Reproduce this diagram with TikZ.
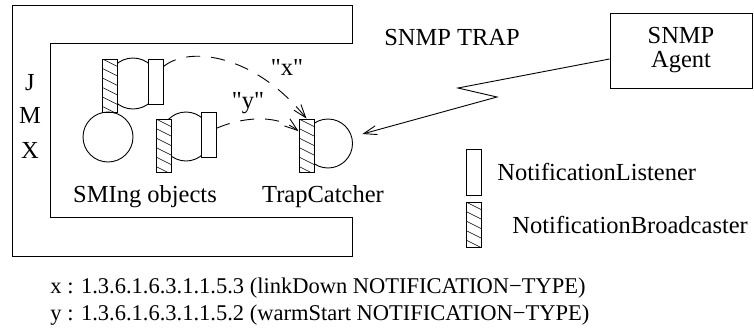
\documentclass[tikz,border=0pt]{standalone}
\usepackage{fontspec}
\setmainfont{Liberation Serif}[Ligatures=TeXOff]
\usetikzlibrary{arrows.meta}
\begin{document}
\begin{tikzpicture}[x=1pt,y=-1pt,line width=0.9pt,
  lbl/.style={font=\fontsize{24.5}{28}\selectfont,inner sep=0pt,anchor=base},
  lblw/.style={font=\fontsize{24.5}{28}\selectfont,inner sep=0pt,anchor=base west},
  small/.style={font=\fontsize{22.5}{26}\selectfont,inner sep=0pt,anchor=base west},
  obj/.style={draw,circle,inner sep=0pt,minimum size=#1},
  listener/.style={draw,fill=white,inner sep=0pt,minimum width=15pt},
  hatchbox/.style={draw,fill=white,inner sep=0pt,minimum width=15pt,
    path picture={\foreach \k in {-1,...,7}{
      \draw[line width=0.6pt] ([yshift=\k*(-9.5pt)]path picture bounding box.north west) -- ++(24pt,-12pt);}}},
  tip/.style={-{Straight Barb[length=13pt,width=9pt]}},
  dasharrow/.style={tip,dash pattern=on 14pt off 11pt}
]
\useasboundingbox (0,0) rectangle (754,335);

% JMX frame
\draw (12,5) -- (352,5) -- (352,43) -- (50,43) -- (50,217) -- (352,217) -- (352,256) -- (12,256) -- cycle;
\node[lbl] (j) at (30,90) {J};
\node[lbl] (m) at (30,123) {M};
\node[lbl] (xx) at (30,158) {X};

% object 1
\node[obj=51pt] (o1c) at (133,83.5) {};
\node[hatchbox,minimum height=53pt] (o1b) at (110,85.5) {};
\node[listener,minimum height=45pt] (o1l) at (155.5,81.5) {};

% object 2
\node[obj=49pt] (o2c) at (186,136.5) {};
\node[hatchbox,minimum height=53pt] (o2b) at (163.5,145.5) {};
\node[listener,minimum height=45pt] (o2l) at (208.5,134.5) {};

% plain object
\node[obj=50pt] (o3) at (108,137) {};

% TrapCatcher
\node[obj=49pt] (tcc) at (328,143.5) {};
\node[hatchbox,minimum height=53pt] (tcb) at (306.5,145.5) {};

\node[lbl] (smi) at (145,202) {SMIng objects};
\node[lbl] (tcl) at (323,202) {TrapCatcher};

% notifications
\draw[dasharrow] (o1l.62) .. controls (190,45) and (255,55) .. (tcb.north);
\draw[dasharrow] (o2l.38) .. controls (240,118) and (275,113) .. (tcb.119);
\node[lbl] (qx) at (287,75) {"x"};
\node[lbl] (qy) at (248,108) {"y"};

% SNMP
\node[lbl] (trap) at (452,45) {SNMP TRAP};
\node[draw,minimum width=142pt,minimum height=75pt,align=center,
  font=\fontsize{24.5}{24}\selectfont] (agent) at (681,50.5) {SNMP\\Agent};
\coordinate (z1) at (458,88);
\coordinate (z2) at (497,97);
\coordinate (tiptc) at ([xshift=9.5pt,yshift=9.5pt]tcc.east);
\draw[tip] ([yshift=-8.5pt]agent.west) -- (z1) -- (z2) -- (tiptc);

% legend
\node[listener,minimum height=46pt] (legl) at (473.5,172) {};
\node[hatchbox,minimum height=45pt] (legb) at (473.5,224.5) {};
\node[lblw] (tl) at (497,180) {NotificationListener};
\node[lblw] (tb) at (512,233) {NotificationBroadcaster};

% bottom text
\node[small] (bx) at (50,293) {x : 1.3.6.1.6.3.1.1.5.3 (linkDown NOTIFICATION−TYPE)};
\node[small] (by) at (50,320) {y : 1.3.6.1.6.3.1.1.5.2 (warmStart NOTIFICATION−TYPE)};
\end{tikzpicture}
\end{document}
